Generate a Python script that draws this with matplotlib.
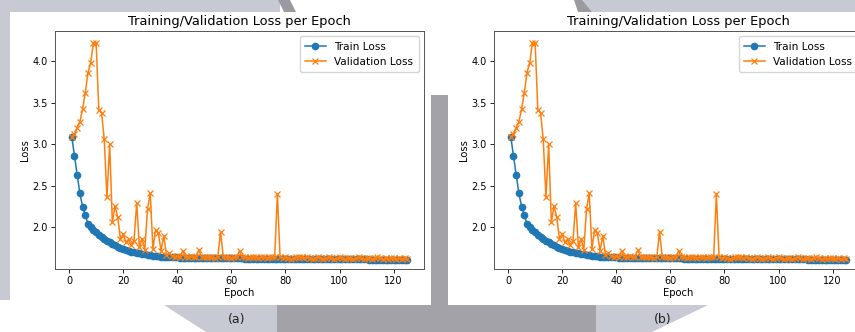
import matplotlib
matplotlib.use("Agg")
import matplotlib.pyplot as plt
from matplotlib.patches import Polygon

# ---------------- data ----------------
train_loss = [
    3.09, 2.86, 2.63, 2.41, 2.25, 2.15, 2.04, 2.00, 1.97, 1.94,
    1.91, 1.88, 1.86, 1.84, 1.82, 1.80, 1.785, 1.77, 1.755, 1.745,
    1.73, 1.72, 1.71, 1.70, 1.695, 1.69, 1.68, 1.675, 1.67, 1.665,
    1.66, 1.66, 1.655, 1.65, 1.65, 1.645, 1.645, 1.64, 1.64, 1.64,
    1.638, 1.637, 1.636, 1.636, 1.635, 1.634, 1.634, 1.633, 1.633, 1.632,
    1.632, 1.631, 1.631, 1.630, 1.630, 1.630, 1.629, 1.629, 1.628, 1.628,
    1.628, 1.627, 1.627, 1.627, 1.626, 1.626, 1.626, 1.625, 1.625, 1.625,
    1.624, 1.624, 1.624, 1.623, 1.623, 1.623, 1.622, 1.622, 1.622, 1.622,
    1.621, 1.621, 1.621, 1.620, 1.620, 1.620, 1.620, 1.619, 1.619, 1.619,
    1.619, 1.618, 1.618, 1.618, 1.618, 1.617, 1.617, 1.617, 1.617, 1.617,
    1.616, 1.616, 1.616, 1.616, 1.616, 1.615, 1.615, 1.615, 1.615, 1.615,
    1.614, 1.614, 1.614, 1.614, 1.614, 1.614, 1.613, 1.613, 1.613, 1.613,
    1.613, 1.613, 1.612, 1.612, 1.612,
]
val_loss = [
    3.09, 3.12, 3.20, 3.27, 3.42, 3.62, 3.86, 3.98, 4.22, 4.22,
    3.41, 3.38, 3.06, 2.36, 3.00, 2.06, 2.26, 2.12, 1.86, 1.92,
    1.82, 1.86, 1.79, 1.84, 2.29, 1.76, 1.86, 1.73, 2.22, 2.41,
    1.74, 1.97, 1.93, 1.72, 1.90, 1.67, 1.69, 1.66, 1.65, 1.66,
    1.64, 1.72, 1.65, 1.64, 1.66, 1.64, 1.65, 1.73, 1.64, 1.65,
    1.64, 1.65, 1.64, 1.63, 1.65, 1.95, 1.64, 1.65, 1.64, 1.63,
    1.65, 1.64, 1.72, 1.64, 1.65, 1.63, 1.64, 1.65, 1.64, 1.63,
    1.65, 1.64, 1.63, 1.64, 1.65, 1.64, 2.40, 1.64, 1.63, 1.64,
    1.63, 1.62, 1.63, 1.64, 1.65, 1.64, 1.63, 1.64, 1.63, 1.62,
    1.63, 1.64, 1.63, 1.62, 1.63, 1.64, 1.63, 1.62, 1.63, 1.64,
    1.63, 1.62, 1.63, 1.63, 1.62, 1.63, 1.64, 1.63, 1.62, 1.63,
    1.63, 1.62, 1.63, 1.64, 1.63, 1.62, 1.63, 1.62, 1.63, 1.63,
    1.62, 1.63, 1.62, 1.63, 1.62,
]
epochs = list(range(1, len(train_loss) + 1))
x_ticks = [0, 20, 40, 60, 80, 100, 120]
y_ticks = [2.0, 2.5, 3.0, 3.5, 4.0]
panel_labels = ["(a)", "(b)"]
title = "Training/Validation Loss per Epoch"

W, H = 855, 332
fig = plt.figure(figsize=(W / 100, H / 100), dpi=100)
fig.patch.set_facecolor("white")

LIGHT = "#c8cad3"
DARK = "#a2a2a8"


def px_poly(pts, color, z=-10):
    p = Polygon([(x / W, 1 - y / H) for x, y in pts], closed=True,
                facecolor=color, edgecolor="none", transform=fig.transFigure,
                zorder=z)
    fig.add_artist(p)


# decorative background shapes (pixel coordinates, y from top)
px_poly([(0, 0), (280, 0), (280, 12), (10, 12), (10, 300), (0, 300)], LIGHT)
px_poly([(278, 0), (290, 0), (296, 12), (284, 12)], "#9a9aa0")
px_poly([(578, 0), (855, 0), (855, 12), (590, 12)], LIGHT)
px_poly([(574, 0), (582, 0), (592, 12), (578, 12)], "#9a9aa0")
px_poly([(431, 95), (448, 95), (448, 305), (431, 305)], DARK)
px_poly([(164, 305), (277, 305), (277, 332), (206, 332)], LIGHT)
px_poly([(277, 305), (596, 305), (596, 332), (277, 332)], DARK)
px_poly([(596, 305), (708, 305), (652, 332), (596, 332)], LIGHT)

axes_left_px = [55, 494]
for i, left in enumerate(axes_left_px):
    ax = fig.add_axes([left / W, 1 - 269 / H, 369 / W, 238 / H])
    ax.plot(epochs, train_loss, marker="o", color="#1f77b4", lw=1.1,
            ms=4.5, label="Train Loss")
    ax.plot(epochs, val_loss, marker="x", color="#ff7f0e", lw=1.1,
            ms=4, mew=0.9, label="Validation Loss")
    ax.set_xlim(-5.2, 131.2)
    ax.set_ylim(1.50, 4.36)
    ax.set_xticks(x_ticks)
    ax.set_yticks(y_ticks)
    ax.tick_params(labelsize=7, length=2.6, width=0.6, pad=2.5)
    for s in ax.spines.values():
        s.set_linewidth(0.7)
        s.set_color("#555555")
    ax.set_title(title, fontsize=9.4, pad=4)
    ax.set_xlabel("Epoch", fontsize=7.2, labelpad=1.5)
    ax.set_ylabel("Loss", fontsize=7.2, labelpad=2)
    ax.legend(loc="upper right", fontsize=7.6, framealpha=0.8,
              borderpad=0.5, handlelength=2.0, labelspacing=0.5)

fig.text(237 / W, 1 - 320 / H, panel_labels[0], ha="center", va="center",
         fontsize=9, color="#222222")
fig.text(663 / W, 1 - 320 / H, panel_labels[1], ha="center", va="center",
         fontsize=9, color="#222222")

fig.savefig("out.png", dpi=100, facecolor=fig.get_facecolor())
